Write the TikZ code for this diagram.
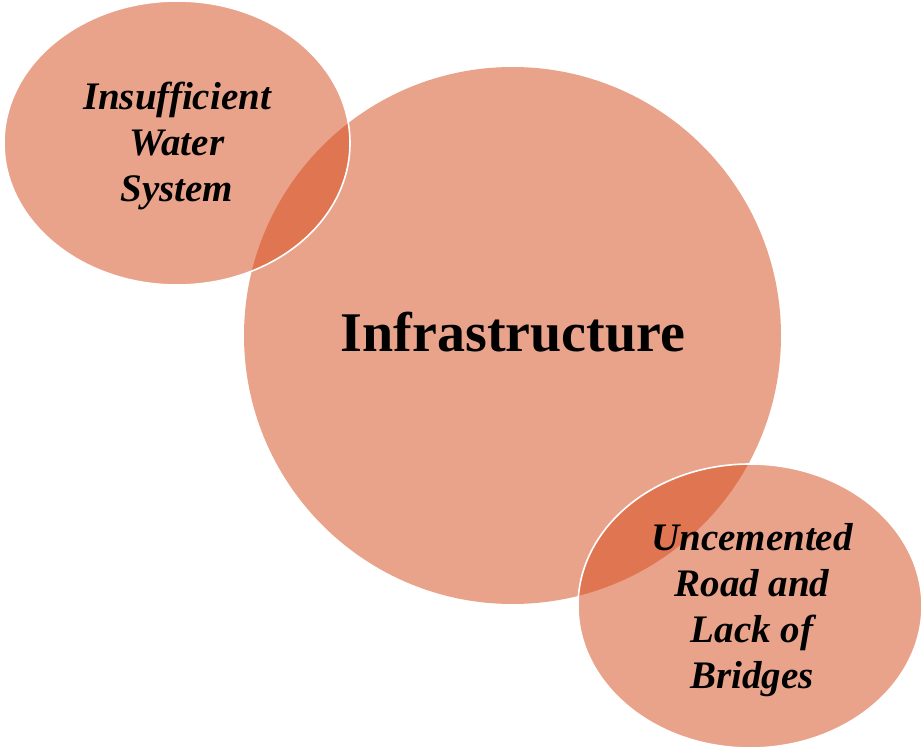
\documentclass[tikz,border=0pt]{standalone}
\usepackage{fontspec}
\setmainfont{Liberation Serif}
\begin{document}
\begin{tikzpicture}[x=1pt,y=-1pt,
  blob/.style={fill={rgb,255:red,212;green,72;blue,24},fill opacity=0.5},
  rim/.style={draw=white,line width=1.6pt},
  side/.style={align=center,font=\fontsize{39}{46}\selectfont\bfseries\itshape,text=black},
  main/.style={font=\fontsize{56}{60}\selectfont\bfseries,text=black}]
\useasboundingbox (0,0) rectangle (922,749);
\fill[blob] (512.5,335.5) circle[radius=268.5];
\fill[blob] (177,143) ellipse[x radius=173,y radius=142];
\draw[rim] (177,143) ellipse[x radius=173,y radius=142];
\fill[blob] (750,606) ellipse[x radius=172,y radius=142];
\draw[rim] (750,606) ellipse[x radius=172,y radius=142];
\node[main] (infra) at (513,332) {Infrastructure};
\node[side] (water) at (177,146) {Insufficient\\Water\\System};
\node[side] (road) at (752,610) {Uncemented\\Road and\\Lack of\\Bridges};
\end{tikzpicture}
\end{document}
